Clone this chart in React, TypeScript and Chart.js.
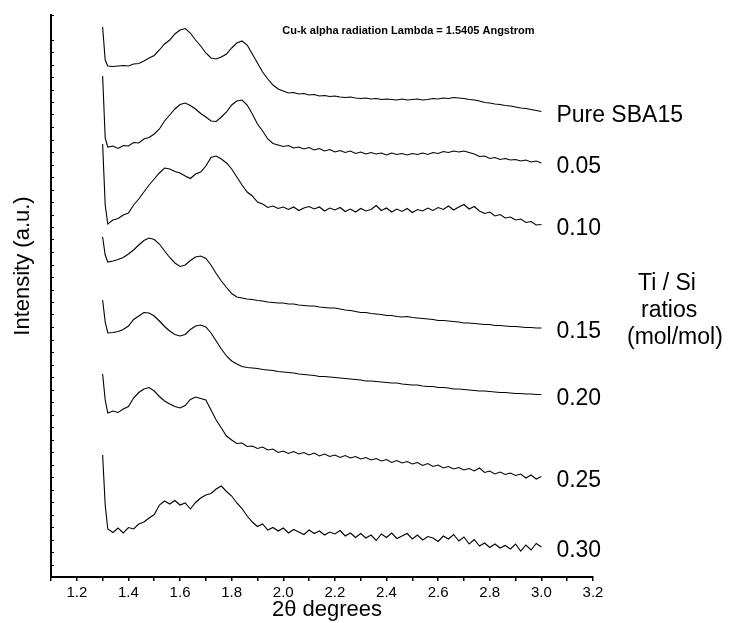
import React, { useEffect, useRef } from 'react';
import { Chart, registerables } from 'chart.js';

Chart.register(...registerables);

// 2θ grid (degrees)
const twoTheta = [
  1.30, 1.31, 1.32, 1.34, 1.36, 1.38, 1.40, 1.42, 1.44, 1.46,
  1.48, 1.50, 1.52, 1.54, 1.56, 1.58, 1.60, 1.62, 1.64, 1.66,
  1.68, 1.70, 1.72, 1.74, 1.76, 1.78, 1.80, 1.82, 1.84, 1.86,
  1.88, 1.90, 1.92, 1.94, 1.96, 1.98, 2.00, 2.02, 2.04, 2.06,
  2.08, 2.10, 2.12, 2.14, 2.16, 2.18, 2.20, 2.22, 2.24, 2.26,
  2.28, 2.30, 2.32, 2.34, 2.36, 2.38, 2.40, 2.42, 2.44, 2.46,
  2.48, 2.50, 2.52, 2.54, 2.56, 2.58, 2.60, 2.62, 2.64, 2.66,
  2.68, 2.70, 2.72, 2.74, 2.76, 2.78, 2.80, 2.82, 2.84, 2.86,
  2.88, 2.90, 2.92, 2.94, 2.96, 2.98, 3.00,
];

// Intensities (a.u.), stacked as plotted
const pureSBA15 = [
  550, 517, 511, 510.5, 511, 511.5, 511, 513, 513.5, 516,
  519, 521.5, 527, 533, 537, 543, 547, 548.5, 544, 537,
  531, 524, 519, 518, 520, 523, 529, 534, 536, 532,
  523, 514, 505, 498, 492, 488, 486, 484, 484.5, 483,
  483.5, 482, 482.5, 481, 481.5, 480.5, 481, 480, 479.5, 480,
  479, 478.5, 479, 478, 478.5, 477.5, 478, 477.5, 477, 478,
  477, 477.5, 478, 477, 477.5, 478.5, 478, 479, 478.5, 479.5,
  479, 478.5, 477.5, 477, 476, 474.5, 474, 473, 472.5, 471.5,
  471, 470, 469, 468.5, 467.5, 466.5, 465.5,
];
const ratio005 = [
  501, 439, 430, 431, 428.5, 431.5, 431, 434.5, 434, 438,
  439.5, 443, 448, 456, 462, 468, 472.5, 474, 471.5, 468,
  463.5, 460, 456, 455.5, 460, 465, 472, 476, 477, 472,
  463, 453, 446, 438, 433.5, 432, 430.5, 431.5, 429, 430,
  428, 429.5, 427, 428.5, 426, 427.5, 425, 426.5, 424.5, 426,
  423.5, 425, 423, 424.5, 423, 424, 422, 424, 422.5, 423.5,
  422, 423.5, 422.5, 424, 422.5, 424.5, 423.5, 425.5, 424.5, 426,
  425, 426, 424.5, 423, 420.5, 421, 418.5, 419.5, 417.5, 418.5,
  417, 417.5, 416, 417, 415, 416, 414,
];
const ratio010 = [
  433, 372, 353, 357, 358.5, 362, 364, 372, 378, 385,
  392, 398, 404, 409, 408, 405.5, 404, 401, 398.5, 403,
  405, 411, 419.5, 421, 418, 414, 408, 400, 392, 385,
  381, 375, 373, 369.5, 371, 368.5, 370, 367.5, 370, 366.5,
  369, 370.5, 368, 370, 366, 369, 367, 369.5, 365.5, 368,
  365, 368.5, 366, 367.5, 371.5, 366.5, 369, 365, 368, 365.5,
  368.5, 364.5, 367.5, 366, 369, 366.5, 369.5, 367.5, 371, 367,
  370, 372.5, 368, 370.5, 366, 363.5, 365, 361, 362.5, 359,
  360, 357, 358, 354.5, 355.5, 352, 352.5,
];
const ratio015 = [
  340, 322, 315, 316, 317.5, 319.5, 323, 327, 332, 336.5,
  339, 337.5, 333, 326, 319.5, 314, 310.5, 312, 316.5, 320,
  321, 318.5, 312, 303.5, 296, 289.5, 283.5, 280, 279, 278,
  277.5, 276.5, 276, 275, 274.5, 274, 274, 273, 273, 272,
  271.5, 271, 271, 270, 269.5, 269, 269, 268, 267, 266.5,
  265.5, 264.5, 264.5, 263.5, 263, 262.5, 261.5, 261.5, 260.5, 260,
  260.5, 259.5, 259, 258.5, 258, 257.5, 256.5, 256.5, 256, 255.5,
  255, 254, 254, 253.5, 253, 252.5, 252.5, 251.5, 251.5, 251,
  250.5, 250.5, 250, 249.5, 249.5, 249, 249,
];
const ratio020 = [
  277, 255, 244, 244.5, 245.5, 247.5, 251, 257.5, 261, 264.5,
  264, 261, 256, 250.5, 246, 242.5, 241, 242.5, 247.5, 251,
  252, 250, 244, 236, 228, 221, 216, 213, 210.5, 209.5,
  209, 208.5, 207.5, 207, 206.5, 205.5, 205, 204.5, 204, 203,
  202.5, 202, 201.5, 200.5, 200.5, 200, 199.5, 199, 198.5, 198,
  197.5, 197, 196, 196, 195.5, 195, 194.5, 194, 194, 193,
  192.5, 192, 192, 191, 190.5, 190.5, 189.5, 189.5, 189, 188,
  188, 187.5, 187, 186.5, 186, 186, 185.5, 185, 184.5, 184.5,
  184, 183.5, 183.5, 183, 183, 182.5, 182.5,
];
const ratio025 = [
  203, 177, 164, 166, 164.5, 168, 170.5, 179, 184.5, 188,
  189.5, 186, 180.5, 176, 173, 170.5, 169, 171.5, 177.5, 180,
  178.5, 177, 167, 157, 149, 141, 137, 133.5, 134, 130.5,
  131, 128.5, 130, 127, 128, 124.5, 126, 123.5, 125.5, 123,
  124.5, 122, 124, 121, 123, 120.5, 122, 119.5, 121.5, 119,
  120.5, 118, 119.5, 117, 118.5, 116, 117.5, 114.5, 116.5, 114,
  115.5, 113, 114.5, 111.5, 113.5, 110.5, 112, 109, 110.5, 108,
  109.5, 107, 108.5, 106, 109, 104.5, 106, 103, 105, 102.5,
  104, 101.5, 103, 99, 102, 98, 100.5,
];
const ratio030 = [
  122, 72, 48, 44.5, 49, 44, 49.5, 48, 53, 55,
  59, 62.5, 72, 76, 73, 76.5, 72, 74, 68, 74.5,
  79, 82, 83.5, 88, 91, 85.5, 81, 74, 68.5, 61,
  55, 50.5, 53, 47, 49.5, 46, 49, 44, 47.5, 45,
  42.5, 47, 43.5, 46, 42, 45, 43, 46.5, 41, 44,
  39.5, 43.5, 39, 42, 36.5, 43, 39.5, 44, 38.5, 41,
  43.5, 38, 42, 37, 40.5, 39, 35.5, 41, 38, 42.5,
  36, 40, 33, 37.5, 31, 34, 29.5, 33, 29, 31.5,
  28, 33, 26, 32, 27, 33.5, 30,
];

const seriesList = [pureSBA15, ratio005, ratio010, ratio015, ratio020, ratio025, ratio030];
const sampleLabels = ['Pure SBA15', '0.05', '0.10', '0.15', '0.20', '0.25', '0.30'];
const ratioNote = ['Ti / Si', 'ratios', '(mol/mol)'];
const annotationText = 'Cu-k alpha radiation Lambda = 1.5405 Angstrom';
const xTitle = '2\u03b8 degrees';
const yTitle = 'Intensity (a.u.)';
const xMin = 1.1;
const xMax = 3.2;
const xStep = 0.1;
const yMin = 0;
const yMax = 562;
const yStep = 12.5;
const annotationAnchor = { x: 2.0, y: 546 };

const FONT = '"Liberation Sans", Arial, Helvetica, sans-serif';

const textPlugin = {
  id: 'sideText',
  afterDraw(chart: any) {
    const { ctx, chartArea } = chart;
    const xs = chart.scales.x;
    const ys = chart.scales.y;
    ctx.save();

    // inward minor ticks on the intensity axis
    ctx.strokeStyle = '#000';
    ctx.lineWidth = 1;
    ctx.beginPath();
    ys.ticks.forEach((t: any) => {
      const py = Math.round(ys.getPixelForValue(t.value)) + 0.5;
      ctx.moveTo(chartArea.left, py);
      ctx.lineTo(chartArea.left + 3, py);
    });
    ctx.stroke();

    ctx.fillStyle = '#000';
    ctx.textAlign = 'left';
    ctx.textBaseline = 'alphabetic';

    // sample labels at trace ends
    ctx.font = `23px ${FONT}`;
    const lx = xs.getPixelForValue(twoTheta[twoTheta.length - 1]) + 15;
    seriesList.forEach((s, i) => {
      const last = s[s.length - 1];
      ctx.fillText(sampleLabels[i], lx, ys.getPixelForValue(last) + 10);
    });

    // Ti / Si ratio note
    const r = chartArea.right;
    ctx.fillText(ratioNote[0], r + 45, 290);
    ctx.fillText(ratioNote[1], r + 48, 317);
    ctx.fillText(ratioNote[2], r + 34, 344);

    // axis titles
    ctx.font = `22px ${FONT}`;
    ctx.textAlign = 'center';
    ctx.fillText(xTitle, (chartArea.left + chartArea.right) / 2 + 5, chartArea.bottom + 39);
    ctx.save();
    ctx.translate(23, 266);
    ctx.rotate(-Math.PI / 2);
    ctx.textBaseline = 'middle';
    ctx.fillText(yTitle, 0, 0);
    ctx.restore();

    // radiation annotation
    ctx.font = `bold 11px ${FONT}`;
    ctx.textAlign = 'left';
    ctx.textBaseline = 'middle';
    ctx.fillText(annotationText, xs.getPixelForValue(annotationAnchor.x) - 1, ys.getPixelForValue(annotationAnchor.y));
    ctx.restore();
  },
};

export default function App() {
  const canvasRef = useRef<HTMLCanvasElement | null>(null);

  useEffect(() => {
    const canvas = canvasRef.current;
    if (!canvas) return;
    Chart.defaults.font.family = FONT;
    Chart.defaults.color = '#000';

    const datasets = seriesList.map((s, i) => ({
      label: sampleLabels[i],
      data: twoTheta.map((t, j) => ({ x: t, y: s[j] })),
      borderColor: '#000',
      backgroundColor: '#000',
      borderWidth: 1.1,
      pointRadius: 0,
      tension: 0,
      fill: false,
    }));

    const chart = new Chart(canvas, {
      type: 'line',
      data: { datasets },
      options: {
        animation: false,
        responsive: false,
        maintainAspectRatio: false,
        layout: { padding: { left: 0, top: 15, right: 146, bottom: 0 } },
        plugins: {
          legend: { display: false },
          tooltip: { enabled: false },
          title: { display: false },
        },
        scales: {
          x: {
            type: 'linear',
            min: xMin,
            max: xMax,
            afterFit: (scale: any) => {
              scale.height = 46;
            },
            ticks: {
              stepSize: xStep,
              autoSkip: false,
              maxRotation: 0,
              padding: 3,
              color: '#000',
              font: { size: 15, family: FONT },
              callback: (v: any) => {
                const n = Math.round(Number(v) * 10);
                return n % 2 === 0 ? (n / 10).toFixed(1) : '';
              },
            },
            grid: {
              drawOnChartArea: false,
              drawTicks: true,
              tickLength: 4,
              color: '#000',
              lineWidth: 1.5,
            },
            border: { display: true, color: '#000', width: 2 },
            title: { display: false, text: xTitle },
          },
          y: {
            type: 'linear',
            min: yMin,
            max: yMax,
            afterFit: (scale: any) => {
              scale.width = 51;
            },
            ticks: {
              display: false,
              stepSize: yStep,
              maxTicksLimit: 200,
            },
            grid: {
              drawOnChartArea: false,
              drawTicks: false,
            },
            border: { display: true, color: '#000', width: 2 },
            title: { display: false, text: yTitle },
          },
        },
      },
      plugins: [textPlugin],
    });

    return () => {
      chart.destroy();
    };
  }, []);

  return (
    <div style={{ position: 'absolute', left: 0, top: 0, width: 739, height: 623, background: '#fff' }}>
      <canvas ref={canvasRef} width={739} height={623} style={{ display: 'block' }} />
    </div>
  );
}
